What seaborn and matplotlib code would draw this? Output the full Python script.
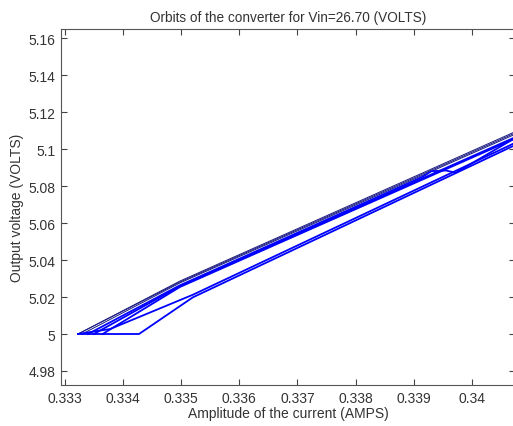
import matplotlib
matplotlib.use('Agg')
import matplotlib.pyplot as plt
import seaborn as sns
from matplotlib.ticker import FuncFormatter, MultipleLocator

# Orbit vertices (current in A, voltage in V)
orbit1_x = [0.333227, 0.334978, 0.3410]
orbit1_y = [5.0, 5.0286, 5.1130]
orbit2_x = [0.333227, 0.334978, 0.3410]
orbit2_y = [5.0, 5.0281, 5.1123]
orbit3_x = [0.33330, 0.334978, 0.3410]
orbit3_y = [5.0, 5.0276, 5.1116]
orbit4_x = [0.33340, 0.334978, 0.33915, 0.33930, 0.33955, 0.33972, 0.3410]
orbit4_y = [5.0, 5.0263, 5.0850, 5.0880, 5.0884, 5.0872, 5.1107]
orbit5_x = [0.33350, 0.334978, 0.3410]
orbit5_y = [5.0, 5.0259, 5.1100]
orbit6_x = [0.33365, 0.334978, 0.3410]
orbit6_y = [5.0, 5.0254, 5.1093]
orbit7_x = [0.333227, 0.334276, 0.33520, 0.3410]
orbit7_y = [5.0, 5.0, 5.0198, 5.1060]
orbit8_x = [0.333227, 0.33378, 0.33520, 0.3410]
orbit8_y = [5.0, 5.0027, 5.0212, 5.1072]

thin_orbits = [(orbit1_x, orbit1_y), (orbit2_x, orbit2_y), (orbit3_x, orbit3_y)]
thick_orbits = [(orbit4_x, orbit4_y), (orbit5_x, orbit5_y), (orbit6_x, orbit6_y),
                (orbit7_x, orbit7_y), (orbit8_x, orbit8_y)]

plt.rcParams['font.family'] = ['Liberation Sans', 'DejaVu Sans']
plt.rcParams['font.size'] = 10

fig = plt.figure(figsize=(5.13, 4.27), dpi=100)
ax = fig.add_axes([61 / 513, 41 / 427, 454 / 513, 356 / 427])

for ox, oy in thin_orbits:
    sns.lineplot(x=ox, y=oy, sort=False, estimator=None, color='#1a1a80', lw=0.7, ax=ax)
for ox, oy in thick_orbits:
    sns.lineplot(x=ox, y=oy, sort=False, estimator=None, color='#0000ff', lw=1.3, ax=ax)

ax.set_xlim(0.332935, 0.340739)
ax.set_ylim(4.97243, 5.1649)
ax.xaxis.set_major_locator(MultipleLocator(0.001))
ax.yaxis.set_major_locator(MultipleLocator(0.02))
ax.xaxis.set_major_formatter(FuncFormatter(lambda v, p: '%g' % round(v, 6)))
ax.yaxis.set_major_formatter(FuncFormatter(lambda v, p: '%g' % round(v, 6)))
ax.tick_params(direction='in', top=True, right=True, length=4, width=0.8,
               colors='#444444', labelcolor='#333333', labelsize=10, pad=4)
for s in ax.spines.values():
    s.set_color('#555555')
    s.set_linewidth(0.8)

ax.set_title('Orbits of the converter for Vin=26.70 (VOLTS)', fontsize=9.8, color='#333333', pad=6)
ax.set_xlabel('Amplitude of the current (AMPS)', fontsize=10, color='#333333', labelpad=1)
ax.set_ylabel('Output voltage (VOLTS)', fontsize=10, color='#333333', labelpad=3)

fig.savefig('out.png', dpi=100)
